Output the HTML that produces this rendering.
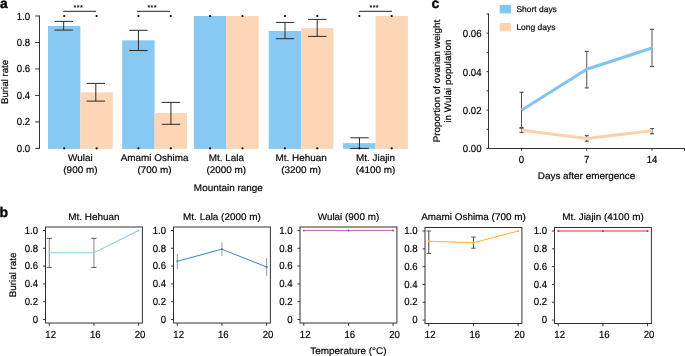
<!DOCTYPE html>
<html><head><meta charset="utf-8"><style>
html,body{margin:0;padding:0;background:#fff;}
text{stroke:#000;stroke-width:0.18px;}
text[font-weight=bold]{stroke-width:0.35px;}
svg{display:block;font-family:"Liberation Sans", sans-serif;-webkit-font-smoothing:antialiased;will-change:transform;text-rendering:geometricPrecision;}
</style></head><body>
<svg width="685" height="356" viewBox="0 0 685 356">
<rect width="685" height="356" fill="#fff"/>
<text x="-0.1" y="7.5" font-size="13.8" text-anchor="start" font-weight="bold" fill="#000" >a</text>
<line x1="39.5" y1="15.5" x2="39.5" y2="148.9" stroke="#333" stroke-width="1" />
<line x1="35.2" y1="148.4" x2="39.5" y2="148.4" stroke="#333" stroke-width="1" />
<text transform="translate(30.20,151.90) scale(1.0,1.08)" font-size="9.6" text-anchor="end" font-weight="normal" fill="#000" >0.0</text>
<line x1="35.2" y1="121.92" x2="39.5" y2="121.92" stroke="#333" stroke-width="1" />
<text transform="translate(30.20,125.42) scale(1.0,1.08)" font-size="9.6" text-anchor="end" font-weight="normal" fill="#000" >0.2</text>
<line x1="35.2" y1="95.44" x2="39.5" y2="95.44" stroke="#333" stroke-width="1" />
<text transform="translate(30.20,98.94) scale(1.0,1.08)" font-size="9.6" text-anchor="end" font-weight="normal" fill="#000" >0.4</text>
<line x1="35.2" y1="68.96" x2="39.5" y2="68.96" stroke="#333" stroke-width="1" />
<text transform="translate(30.20,72.46) scale(1.0,1.08)" font-size="9.6" text-anchor="end" font-weight="normal" fill="#000" >0.6</text>
<line x1="35.2" y1="42.47999999999999" x2="39.5" y2="42.47999999999999" stroke="#333" stroke-width="1" />
<text transform="translate(30.20,45.98) scale(1.0,1.08)" font-size="9.6" text-anchor="end" font-weight="normal" fill="#000" >0.8</text>
<line x1="35.2" y1="16.0" x2="39.5" y2="16.0" stroke="#333" stroke-width="1" />
<text transform="translate(30.20,19.50) scale(1.0,1.08)" font-size="9.6" text-anchor="end" font-weight="normal" fill="#000" >1.0</text>
<text transform="translate(7.6,81.9) rotate(-90) scale(1.01,1)" font-size="9.6" text-anchor="middle" fill="#000">Burial rate</text>
<rect x="48.00" y="26.00" width="32.40" height="122.90" fill="#88c9f4"/>
<rect x="80.40" y="92.40" width="32.40" height="56.50" fill="#fdd6b6"/>
<rect x="122.20" y="40.30" width="32.40" height="108.60" fill="#88c9f4"/>
<rect x="154.60" y="113.00" width="32.40" height="35.90" fill="#fdd6b6"/>
<rect x="193.90" y="16.00" width="32.40" height="132.90" fill="#88c9f4"/>
<rect x="226.30" y="16.00" width="32.40" height="132.90" fill="#fdd6b6"/>
<rect x="268.70" y="31.00" width="32.40" height="117.90" fill="#88c9f4"/>
<rect x="301.10" y="28.10" width="32.40" height="120.80" fill="#fdd6b6"/>
<rect x="343.10" y="143.10" width="32.40" height="5.80" fill="#88c9f4"/>
<rect x="375.50" y="16.00" width="32.40" height="132.90" fill="#fdd6b6"/>
<line x1="63.7" y1="21.4" x2="63.7" y2="30.1" stroke="#2a2a2a" stroke-width="1" />
<line x1="54.5" y1="21.4" x2="72.9" y2="21.4" stroke="#2a2a2a" stroke-width="1" />
<line x1="54.5" y1="30.1" x2="72.9" y2="30.1" stroke="#2a2a2a" stroke-width="1" />
<line x1="95.8" y1="83.4" x2="95.8" y2="101.1" stroke="#2a2a2a" stroke-width="1" />
<line x1="86.6" y1="83.4" x2="105.0" y2="83.4" stroke="#2a2a2a" stroke-width="1" />
<line x1="86.6" y1="101.1" x2="105.0" y2="101.1" stroke="#2a2a2a" stroke-width="1" />
<circle cx="64.20" cy="16" r="1.1" fill="#000"/>
<circle cx="64.20" cy="148.3" r="1.1" fill="#000"/>
<circle cx="96.60" cy="16" r="1.1" fill="#000"/>
<circle cx="96.60" cy="148.3" r="1.1" fill="#000"/>
<line x1="138.45" y1="30.3" x2="138.45" y2="50.5" stroke="#2a2a2a" stroke-width="1" />
<line x1="129.25" y1="30.3" x2="147.64999999999998" y2="30.3" stroke="#2a2a2a" stroke-width="1" />
<line x1="129.25" y1="50.5" x2="147.64999999999998" y2="50.5" stroke="#2a2a2a" stroke-width="1" />
<line x1="170.95" y1="102.4" x2="170.95" y2="124.3" stroke="#2a2a2a" stroke-width="1" />
<line x1="161.75" y1="102.4" x2="180.14999999999998" y2="102.4" stroke="#2a2a2a" stroke-width="1" />
<line x1="161.75" y1="124.3" x2="180.14999999999998" y2="124.3" stroke="#2a2a2a" stroke-width="1" />
<circle cx="138.40" cy="16" r="1.1" fill="#000"/>
<circle cx="138.40" cy="148.3" r="1.1" fill="#000"/>
<circle cx="170.80" cy="16" r="1.1" fill="#000"/>
<circle cx="170.80" cy="148.3" r="1.1" fill="#000"/>
<circle cx="210.10" cy="16" r="1.1" fill="#000"/>
<circle cx="210.10" cy="148.3" r="1.1" fill="#000"/>
<circle cx="242.50" cy="16" r="1.1" fill="#000"/>
<circle cx="242.50" cy="148.3" r="1.1" fill="#000"/>
<line x1="285.0" y1="22.45" x2="285.0" y2="38.7" stroke="#2a2a2a" stroke-width="1" />
<line x1="275.8" y1="22.45" x2="294.2" y2="22.45" stroke="#2a2a2a" stroke-width="1" />
<line x1="275.8" y1="38.7" x2="294.2" y2="38.7" stroke="#2a2a2a" stroke-width="1" />
<line x1="317.2" y1="19.4" x2="317.2" y2="36.4" stroke="#2a2a2a" stroke-width="1" />
<line x1="308.0" y1="19.4" x2="326.4" y2="19.4" stroke="#2a2a2a" stroke-width="1" />
<line x1="308.0" y1="36.4" x2="326.4" y2="36.4" stroke="#2a2a2a" stroke-width="1" />
<circle cx="284.90" cy="16" r="1.1" fill="#000"/>
<circle cx="284.90" cy="148.3" r="1.1" fill="#000"/>
<circle cx="317.30" cy="16" r="1.1" fill="#000"/>
<circle cx="317.30" cy="148.3" r="1.1" fill="#000"/>
<line x1="359.5" y1="137.8" x2="359.5" y2="148.4" stroke="#2a2a2a" stroke-width="1" />
<line x1="350.3" y1="137.8" x2="368.7" y2="137.8" stroke="#2a2a2a" stroke-width="1" />
<line x1="350.3" y1="148.4" x2="368.7" y2="148.4" stroke="#2a2a2a" stroke-width="1" />
<circle cx="359.30" cy="16" r="1.1" fill="#000"/>
<circle cx="359.30" cy="148.3" r="1.1" fill="#000"/>
<circle cx="391.70" cy="16" r="1.1" fill="#000"/>
<circle cx="391.70" cy="148.3" r="1.1" fill="#000"/>
<line x1="63.2" y1="11.3" x2="96.1" y2="11.3" stroke="#222" stroke-width="1" />
<text x="78.35000000000001" y="9.7" font-size="7.2" text-anchor="middle" font-weight="normal" fill="#000" style="stroke-width:0.12px;letter-spacing:0.35px">***</text>
<line x1="136.9" y1="11.3" x2="170.0" y2="11.3" stroke="#222" stroke-width="1" />
<text x="152.14999999999998" y="9.7" font-size="7.2" text-anchor="middle" font-weight="normal" fill="#000" style="stroke-width:0.12px;letter-spacing:0.35px">***</text>
<line x1="359.1" y1="11.3" x2="392.1" y2="11.3" stroke="#222" stroke-width="1" />
<text x="374.3" y="9.7" font-size="7.2" text-anchor="middle" font-weight="normal" fill="#000" style="stroke-width:0.12px;letter-spacing:0.35px">***</text>
<text transform="translate(80.40,160.80) scale(1.033,1.0)" font-size="9.6" text-anchor="middle" font-weight="normal" fill="#000" >Wulai</text>
<text transform="translate(80.40,172.60) scale(1.033,1.0)" font-size="9.6" text-anchor="middle" font-weight="normal" fill="#000" >(900 m)</text>
<text transform="translate(154.60,160.80) scale(1.033,1.0)" font-size="9.6" text-anchor="middle" font-weight="normal" fill="#000" >Amami Oshima</text>
<text transform="translate(154.60,172.60) scale(1.033,1.0)" font-size="9.6" text-anchor="middle" font-weight="normal" fill="#000" >(700 m)</text>
<text transform="translate(226.30,160.80) scale(1.033,1.0)" font-size="9.6" text-anchor="middle" font-weight="normal" fill="#000" >Mt. Lala</text>
<text transform="translate(226.30,172.60) scale(1.033,1.0)" font-size="9.6" text-anchor="middle" font-weight="normal" fill="#000" >(2000 m)</text>
<text transform="translate(301.10,160.80) scale(1.033,1.0)" font-size="9.6" text-anchor="middle" font-weight="normal" fill="#000" >Mt. Hehuan</text>
<text transform="translate(301.10,172.60) scale(1.033,1.0)" font-size="9.6" text-anchor="middle" font-weight="normal" fill="#000" >(3200 m)</text>
<text transform="translate(375.50,160.80) scale(1.033,1.0)" font-size="9.6" text-anchor="middle" font-weight="normal" fill="#000" >Mt. Jiajin</text>
<text transform="translate(375.50,172.60) scale(1.033,1.0)" font-size="9.6" text-anchor="middle" font-weight="normal" fill="#000" >(4100 m)</text>
<text transform="translate(228.30,190.70) scale(1.033,1.0)" font-size="9.6" text-anchor="middle" font-weight="normal" fill="#000" >Mountain range</text>
<text x="431.6" y="7.5" font-size="14" text-anchor="start" font-weight="bold" fill="#000" >c</text>
<line x1="488.5" y1="13.45999999999998" x2="488.5" y2="148.5" stroke="#333" stroke-width="1" />
<line x1="486.5" y1="148.5" x2="488.5" y2="148.5" stroke="#333" stroke-width="1" />
<line x1="486.5" y1="129.28" x2="488.5" y2="129.28" stroke="#333" stroke-width="1" />
<line x1="486.5" y1="110.06" x2="488.5" y2="110.06" stroke="#333" stroke-width="1" />
<line x1="486.5" y1="90.84" x2="488.5" y2="90.84" stroke="#333" stroke-width="1" />
<line x1="486.5" y1="71.62" x2="488.5" y2="71.62" stroke="#333" stroke-width="1" />
<line x1="486.5" y1="52.400000000000006" x2="488.5" y2="52.400000000000006" stroke="#333" stroke-width="1" />
<line x1="486.5" y1="33.18000000000001" x2="488.5" y2="33.18000000000001" stroke="#333" stroke-width="1" />
<line x1="486.5" y1="13.95999999999998" x2="488.5" y2="13.95999999999998" stroke="#333" stroke-width="1" />
<text transform="translate(481.50,152.40) scale(1.0,1.08)" font-size="9.6" text-anchor="end" font-weight="normal" fill="#000" >0.00</text>
<text transform="translate(481.50,113.96) scale(1.0,1.08)" font-size="9.6" text-anchor="end" font-weight="normal" fill="#000" >0.02</text>
<text transform="translate(481.50,75.52) scale(1.0,1.08)" font-size="9.6" text-anchor="end" font-weight="normal" fill="#000" >0.04</text>
<text transform="translate(481.50,37.08) scale(1.0,1.08)" font-size="9.6" text-anchor="end" font-weight="normal" fill="#000" >0.06</text>
<line x1="488.0" y1="148.5" x2="684.5" y2="148.5" stroke="#333" stroke-width="1" />
<line x1="521.5" y1="148.5" x2="521.5" y2="150.7" stroke="#333" stroke-width="1" />
<text transform="translate(521.50,163.20) scale(1.0,1.08)" font-size="9.6" text-anchor="middle" font-weight="normal" fill="#000" >0</text>
<line x1="586.75" y1="148.5" x2="586.75" y2="150.7" stroke="#333" stroke-width="1" />
<text transform="translate(586.75,163.20) scale(1.0,1.08)" font-size="9.6" text-anchor="middle" font-weight="normal" fill="#000" >7</text>
<line x1="652.0" y1="148.5" x2="652.0" y2="150.7" stroke="#333" stroke-width="1" />
<text transform="translate(652.00,163.20) scale(1.0,1.08)" font-size="9.6" text-anchor="middle" font-weight="normal" fill="#000" >14</text>
<line x1="684.5" y1="148.5" x2="684.5" y2="150.7" stroke="#333" stroke-width="1" />
<text transform="translate(586.50,178.90) scale(1.033,1.0)" font-size="9.6" text-anchor="middle" font-weight="normal" fill="#000" >Days after emergence</text>
<text transform="translate(439.9,81) rotate(-90) scale(1.025,1)" font-size="9.6" text-anchor="middle" fill="#000">Proportion of ovarian weight</text>
<text transform="translate(451.3,81.1) rotate(-90) scale(1.025,1)" font-size="9.6" text-anchor="middle" fill="#000">in Wulai population</text>
<rect x="499.70" y="4.90" width="11.40" height="8.50" fill="#84c6f3"/>
<rect x="499.70" y="23.00" width="11.40" height="8.30" fill="#fdd3b2"/>
<text transform="translate(516.40,12.30) scale(1.01,1.0)" font-size="8.4" text-anchor="start" font-weight="normal" fill="#000" >Short days</text>
<text transform="translate(516.40,30.10) scale(1.01,1.0)" font-size="8.4" text-anchor="start" font-weight="normal" fill="#000" >Long days</text>
<line x1="521.5" y1="92.3" x2="521.5" y2="127.5" stroke="#555" stroke-width="1" />
<line x1="519.5" y1="92.3" x2="523.5" y2="92.3" stroke="#555" stroke-width="1.2" />
<line x1="519.5" y1="127.5" x2="523.5" y2="127.5" stroke="#555" stroke-width="1.2" />
<line x1="586.75" y1="51.4" x2="586.75" y2="87.9" stroke="#555" stroke-width="1" />
<line x1="584.75" y1="51.4" x2="588.75" y2="51.4" stroke="#555" stroke-width="1.2" />
<line x1="584.75" y1="87.9" x2="588.75" y2="87.9" stroke="#555" stroke-width="1.2" />
<line x1="652.0" y1="29.3" x2="652.0" y2="66.5" stroke="#555" stroke-width="1" />
<line x1="650.0" y1="29.3" x2="654.0" y2="29.3" stroke="#555" stroke-width="1.2" />
<line x1="650.0" y1="66.5" x2="654.0" y2="66.5" stroke="#555" stroke-width="1.2" />
<line x1="521.5" y1="128.3" x2="521.5" y2="132.5" stroke="#555" stroke-width="1" />
<line x1="519.5" y1="128.3" x2="523.5" y2="128.3" stroke="#555" stroke-width="1.2" />
<line x1="519.5" y1="132.5" x2="523.5" y2="132.5" stroke="#555" stroke-width="1.2" />
<line x1="586.75" y1="135.7" x2="586.75" y2="141.2" stroke="#555" stroke-width="1" />
<line x1="584.75" y1="135.7" x2="588.75" y2="135.7" stroke="#555" stroke-width="1.2" />
<line x1="584.75" y1="141.2" x2="588.75" y2="141.2" stroke="#555" stroke-width="1.2" />
<line x1="652.0" y1="128.6" x2="652.0" y2="133.8" stroke="#555" stroke-width="1" />
<line x1="650.0" y1="128.6" x2="654.0" y2="128.6" stroke="#555" stroke-width="1.2" />
<line x1="650.0" y1="133.8" x2="654.0" y2="133.8" stroke="#555" stroke-width="1.2" />
<polyline points="521.50,130.3 586.75,138.6 652.00,130.8" fill="none" stroke="#fdd0ac" stroke-width="3" stroke-linejoin="round"/>
<polyline points="521.50,110.2 586.75,69.2 652.00,48.0" fill="none" stroke="#80c4f2" stroke-width="3" stroke-linejoin="round"/>
<text x="-0.4" y="216.6" font-size="14" text-anchor="start" font-weight="bold" fill="#000" >b</text>
<text transform="translate(16.0,274.9) rotate(-90) scale(1.025,1)" font-size="9.6" text-anchor="middle" fill="#000">Burial rate</text>
<text transform="translate(348.40,353.50) scale(1.033,1.0)" font-size="9.6" text-anchor="middle" font-weight="normal" fill="#000" >Temperature (°C)</text>
<rect x="45.5" y="227.0" width="96.9" height="96.0" fill="none" stroke="#333" stroke-width="1"/>
<line x1="43.1" y1="319.5" x2="45.5" y2="319.5" stroke="#333" stroke-width="1" />
<text transform="translate(38.10,322.70) scale(1.0,1.08)" font-size="9.6" text-anchor="end" font-weight="normal" fill="#000" >0</text>
<line x1="43.1" y1="301.7" x2="45.5" y2="301.7" stroke="#333" stroke-width="1" />
<text transform="translate(38.10,304.90) scale(1.0,1.08)" font-size="9.6" text-anchor="end" font-weight="normal" fill="#000" >0.2</text>
<line x1="43.1" y1="283.9" x2="45.5" y2="283.9" stroke="#333" stroke-width="1" />
<text transform="translate(38.10,287.10) scale(1.0,1.08)" font-size="9.6" text-anchor="end" font-weight="normal" fill="#000" >0.4</text>
<line x1="43.1" y1="266.1" x2="45.5" y2="266.1" stroke="#333" stroke-width="1" />
<text transform="translate(38.10,269.30) scale(1.0,1.08)" font-size="9.6" text-anchor="end" font-weight="normal" fill="#000" >0.6</text>
<line x1="43.1" y1="248.3" x2="45.5" y2="248.3" stroke="#333" stroke-width="1" />
<text transform="translate(38.10,251.50) scale(1.0,1.08)" font-size="9.6" text-anchor="end" font-weight="normal" fill="#000" >0.8</text>
<line x1="43.1" y1="230.5" x2="45.5" y2="230.5" stroke="#333" stroke-width="1" />
<text transform="translate(38.10,233.70) scale(1.0,1.08)" font-size="9.6" text-anchor="end" font-weight="normal" fill="#000" >1.0</text>
<line x1="49.3" y1="323.0" x2="49.3" y2="325.8" stroke="#333" stroke-width="1" />
<text transform="translate(50.70,337.60) scale(1.0,1.08)" font-size="9.6" text-anchor="middle" font-weight="normal" fill="#000" >12</text>
<line x1="93.95" y1="323.0" x2="93.95" y2="325.8" stroke="#333" stroke-width="1" />
<text transform="translate(95.35,337.60) scale(1.0,1.08)" font-size="9.6" text-anchor="middle" font-weight="normal" fill="#000" >16</text>
<line x1="138.60000000000002" y1="323.0" x2="138.60000000000002" y2="325.8" stroke="#333" stroke-width="1" />
<text transform="translate(140.00,337.60) scale(1.0,1.08)" font-size="9.6" text-anchor="middle" font-weight="normal" fill="#000" >20</text>
<text transform="translate(93.95,219.80) scale(1.033,1.0)" font-size="9.6" text-anchor="middle" font-weight="normal" fill="#000" >Mt. Hehuan</text>
<line x1="49.3" y1="267.435" x2="49.3" y2="238.332" stroke="#888" stroke-width="1" />
<line x1="46.8" y1="267.435" x2="51.8" y2="267.435" stroke="#555" stroke-width="1" />
<line x1="46.8" y1="238.332" x2="51.8" y2="238.332" stroke="#555" stroke-width="1" />
<line x1="93.95" y1="267.435" x2="93.95" y2="238.332" stroke="#888" stroke-width="1" />
<line x1="91.45" y1="267.435" x2="96.45" y2="267.435" stroke="#555" stroke-width="1" />
<line x1="91.45" y1="238.332" x2="96.45" y2="238.332" stroke="#555" stroke-width="1" />
<polyline points="49.30,252.75 93.95,252.75 138.60,230.50" fill="none" stroke="#8ecbf0" stroke-width="1.1"/>
<circle cx="49.30" cy="252.75" r="1" fill="#8ecbf0"/>
<circle cx="93.95" cy="252.75" r="1" fill="#8ecbf0"/>
<circle cx="138.60" cy="230.50" r="1" fill="#8ecbf0"/>
<rect x="173.5" y="227.0" width="96.9" height="96.0" fill="none" stroke="#333" stroke-width="1"/>
<line x1="171.1" y1="319.5" x2="173.5" y2="319.5" stroke="#333" stroke-width="1" />
<text transform="translate(166.10,322.70) scale(1.0,1.08)" font-size="9.6" text-anchor="end" font-weight="normal" fill="#000" >0</text>
<line x1="171.1" y1="301.7" x2="173.5" y2="301.7" stroke="#333" stroke-width="1" />
<text transform="translate(166.10,304.90) scale(1.0,1.08)" font-size="9.6" text-anchor="end" font-weight="normal" fill="#000" >0.2</text>
<line x1="171.1" y1="283.9" x2="173.5" y2="283.9" stroke="#333" stroke-width="1" />
<text transform="translate(166.10,287.10) scale(1.0,1.08)" font-size="9.6" text-anchor="end" font-weight="normal" fill="#000" >0.4</text>
<line x1="171.1" y1="266.1" x2="173.5" y2="266.1" stroke="#333" stroke-width="1" />
<text transform="translate(166.10,269.30) scale(1.0,1.08)" font-size="9.6" text-anchor="end" font-weight="normal" fill="#000" >0.6</text>
<line x1="171.1" y1="248.3" x2="173.5" y2="248.3" stroke="#333" stroke-width="1" />
<text transform="translate(166.10,251.50) scale(1.0,1.08)" font-size="9.6" text-anchor="end" font-weight="normal" fill="#000" >0.8</text>
<line x1="171.1" y1="230.5" x2="173.5" y2="230.5" stroke="#333" stroke-width="1" />
<text transform="translate(166.10,233.70) scale(1.0,1.08)" font-size="9.6" text-anchor="end" font-weight="normal" fill="#000" >1.0</text>
<line x1="177.3" y1="323.0" x2="177.3" y2="325.8" stroke="#333" stroke-width="1" />
<text transform="translate(178.70,337.60) scale(1.0,1.08)" font-size="9.6" text-anchor="middle" font-weight="normal" fill="#000" >12</text>
<line x1="221.95000000000002" y1="323.0" x2="221.95000000000002" y2="325.8" stroke="#333" stroke-width="1" />
<text transform="translate(223.35,337.60) scale(1.0,1.08)" font-size="9.6" text-anchor="middle" font-weight="normal" fill="#000" >16</text>
<line x1="266.6" y1="323.0" x2="266.6" y2="325.8" stroke="#333" stroke-width="1" />
<text transform="translate(268.00,337.60) scale(1.0,1.08)" font-size="9.6" text-anchor="middle" font-weight="normal" fill="#000" >20</text>
<text transform="translate(221.95,219.80) scale(1.033,1.0)" font-size="9.6" text-anchor="middle" font-weight="normal" fill="#000" >Mt. Lala (2000 m)</text>
<line x1="177.3" y1="269.21500000000003" x2="177.3" y2="253.81799999999998" stroke="#999" stroke-width="1" />
<line x1="221.95000000000002" y1="255.954" x2="221.95000000000002" y2="242.07" stroke="#999" stroke-width="1" />
<line x1="266.6" y1="275.89" x2="266.6" y2="258.09000000000003" stroke="#999" stroke-width="1" />
<polyline points="177.30,261.29 221.95,249.19 266.60,266.99" fill="none" stroke="#3d7fc8" stroke-width="1.0"/>
<circle cx="177.30" cy="261.29" r="1" fill="#3d7fc8"/>
<circle cx="221.95" cy="249.19" r="1" fill="#3d7fc8"/>
<circle cx="266.60" cy="266.99" r="1" fill="#3d7fc8"/>
<rect x="300.0" y="227.0" width="96.9" height="96.0" fill="none" stroke="#333" stroke-width="1"/>
<line x1="297.6" y1="319.5" x2="300.0" y2="319.5" stroke="#333" stroke-width="1" />
<text transform="translate(292.60,322.70) scale(1.0,1.08)" font-size="9.6" text-anchor="end" font-weight="normal" fill="#000" >0</text>
<line x1="297.6" y1="301.7" x2="300.0" y2="301.7" stroke="#333" stroke-width="1" />
<text transform="translate(292.60,304.90) scale(1.0,1.08)" font-size="9.6" text-anchor="end" font-weight="normal" fill="#000" >0.2</text>
<line x1="297.6" y1="283.9" x2="300.0" y2="283.9" stroke="#333" stroke-width="1" />
<text transform="translate(292.60,287.10) scale(1.0,1.08)" font-size="9.6" text-anchor="end" font-weight="normal" fill="#000" >0.4</text>
<line x1="297.6" y1="266.1" x2="300.0" y2="266.1" stroke="#333" stroke-width="1" />
<text transform="translate(292.60,269.30) scale(1.0,1.08)" font-size="9.6" text-anchor="end" font-weight="normal" fill="#000" >0.6</text>
<line x1="297.6" y1="248.3" x2="300.0" y2="248.3" stroke="#333" stroke-width="1" />
<text transform="translate(292.60,251.50) scale(1.0,1.08)" font-size="9.6" text-anchor="end" font-weight="normal" fill="#000" >0.8</text>
<line x1="297.6" y1="230.5" x2="300.0" y2="230.5" stroke="#333" stroke-width="1" />
<text transform="translate(292.60,233.70) scale(1.0,1.08)" font-size="9.6" text-anchor="end" font-weight="normal" fill="#000" >1.0</text>
<line x1="303.8" y1="323.0" x2="303.8" y2="325.8" stroke="#333" stroke-width="1" />
<text transform="translate(305.20,337.60) scale(1.0,1.08)" font-size="9.6" text-anchor="middle" font-weight="normal" fill="#000" >12</text>
<line x1="348.45000000000005" y1="323.0" x2="348.45000000000005" y2="325.8" stroke="#333" stroke-width="1" />
<text transform="translate(349.85,337.60) scale(1.0,1.08)" font-size="9.6" text-anchor="middle" font-weight="normal" fill="#000" >16</text>
<line x1="393.1" y1="323.0" x2="393.1" y2="325.8" stroke="#333" stroke-width="1" />
<text transform="translate(394.50,337.60) scale(1.0,1.08)" font-size="9.6" text-anchor="middle" font-weight="normal" fill="#000" >20</text>
<text transform="translate(348.45,219.80) scale(1.033,1.0)" font-size="9.6" text-anchor="middle" font-weight="normal" fill="#000" >Wulai (900 m)</text>
<polyline points="303.80,230.50 348.45,230.50 393.10,230.50" fill="none" stroke="#c070b8" stroke-width="1.1"/>
<circle cx="303.80" cy="230.50" r="1" fill="#a040a0"/>
<circle cx="348.45" cy="230.50" r="1" fill="#a040a0"/>
<circle cx="393.10" cy="230.50" r="1" fill="#a040a0"/>
<rect x="425.0" y="227.5" width="96.9" height="96.0" fill="none" stroke="#333" stroke-width="1"/>
<line x1="422.6" y1="320.1" x2="425.0" y2="320.1" stroke="#333" stroke-width="1" />
<text transform="translate(417.60,323.30) scale(1.0,1.08)" font-size="9.6" text-anchor="end" font-weight="normal" fill="#000" >0</text>
<line x1="422.6" y1="302.28000000000003" x2="425.0" y2="302.28000000000003" stroke="#333" stroke-width="1" />
<text transform="translate(417.60,305.48) scale(1.0,1.08)" font-size="9.6" text-anchor="end" font-weight="normal" fill="#000" >0.2</text>
<line x1="422.6" y1="284.46000000000004" x2="425.0" y2="284.46000000000004" stroke="#333" stroke-width="1" />
<text transform="translate(417.60,287.66) scale(1.0,1.08)" font-size="9.6" text-anchor="end" font-weight="normal" fill="#000" >0.4</text>
<line x1="422.6" y1="266.64" x2="425.0" y2="266.64" stroke="#333" stroke-width="1" />
<text transform="translate(417.60,269.84) scale(1.0,1.08)" font-size="9.6" text-anchor="end" font-weight="normal" fill="#000" >0.6</text>
<line x1="422.6" y1="248.82" x2="425.0" y2="248.82" stroke="#333" stroke-width="1" />
<text transform="translate(417.60,252.02) scale(1.0,1.08)" font-size="9.6" text-anchor="end" font-weight="normal" fill="#000" >0.8</text>
<line x1="422.6" y1="231.0" x2="425.0" y2="231.0" stroke="#333" stroke-width="1" />
<text transform="translate(417.60,234.20) scale(1.0,1.08)" font-size="9.6" text-anchor="end" font-weight="normal" fill="#000" >1.0</text>
<line x1="428.8" y1="323.5" x2="428.8" y2="326.3" stroke="#333" stroke-width="1" />
<text transform="translate(430.20,337.60) scale(1.0,1.08)" font-size="9.6" text-anchor="middle" font-weight="normal" fill="#000" >12</text>
<line x1="473.45000000000005" y1="323.5" x2="473.45000000000005" y2="326.3" stroke="#333" stroke-width="1" />
<text transform="translate(474.85,337.60) scale(1.0,1.08)" font-size="9.6" text-anchor="middle" font-weight="normal" fill="#000" >16</text>
<line x1="518.1" y1="323.5" x2="518.1" y2="326.3" stroke="#333" stroke-width="1" />
<text transform="translate(519.50,337.60) scale(1.0,1.08)" font-size="9.6" text-anchor="middle" font-weight="normal" fill="#000" >20</text>
<text transform="translate(473.45,219.80) scale(1.033,1.0)" font-size="9.6" text-anchor="middle" font-weight="normal" fill="#000" >Amami Oshima (700 m)</text>
<line x1="428.8" y1="253.4532" x2="428.8" y2="231.0" stroke="#444" stroke-width="1" />
<line x1="426.5" y1="253.4532" x2="431.1" y2="253.4532" stroke="#555" stroke-width="1" />
<line x1="426.5" y1="231.0" x2="431.1" y2="231.0" stroke="#555" stroke-width="1" />
<line x1="473.45000000000005" y1="248.1963" x2="473.45000000000005" y2="237.0588" stroke="#444" stroke-width="1" />
<line x1="471.15000000000003" y1="248.1963" x2="475.75000000000006" y2="248.1963" stroke="#555" stroke-width="1" />
<line x1="471.15000000000003" y1="237.0588" x2="475.75000000000006" y2="237.0588" stroke="#555" stroke-width="1" />
<polyline points="428.80,241.25 473.45,242.76 518.10,231.00" fill="none" stroke="#ffb22c" stroke-width="1.0"/>
<circle cx="428.80" cy="241.25" r="1" fill="#ffb22c"/>
<circle cx="473.45" cy="242.76" r="1" fill="#ffb22c"/>
<circle cx="518.10" cy="231.00" r="1" fill="#ffb22c"/>
<rect x="554.5" y="227.5" width="96.9" height="96.0" fill="none" stroke="#333" stroke-width="1"/>
<line x1="552.1" y1="320.1" x2="554.5" y2="320.1" stroke="#333" stroke-width="1" />
<text transform="translate(547.10,323.30) scale(1.0,1.08)" font-size="9.6" text-anchor="end" font-weight="normal" fill="#000" >0</text>
<line x1="552.1" y1="302.28000000000003" x2="554.5" y2="302.28000000000003" stroke="#333" stroke-width="1" />
<text transform="translate(547.10,305.48) scale(1.0,1.08)" font-size="9.6" text-anchor="end" font-weight="normal" fill="#000" >0.2</text>
<line x1="552.1" y1="284.46000000000004" x2="554.5" y2="284.46000000000004" stroke="#333" stroke-width="1" />
<text transform="translate(547.10,287.66) scale(1.0,1.08)" font-size="9.6" text-anchor="end" font-weight="normal" fill="#000" >0.4</text>
<line x1="552.1" y1="266.64" x2="554.5" y2="266.64" stroke="#333" stroke-width="1" />
<text transform="translate(547.10,269.84) scale(1.0,1.08)" font-size="9.6" text-anchor="end" font-weight="normal" fill="#000" >0.6</text>
<line x1="552.1" y1="248.82" x2="554.5" y2="248.82" stroke="#333" stroke-width="1" />
<text transform="translate(547.10,252.02) scale(1.0,1.08)" font-size="9.6" text-anchor="end" font-weight="normal" fill="#000" >0.8</text>
<line x1="552.1" y1="231.0" x2="554.5" y2="231.0" stroke="#333" stroke-width="1" />
<text transform="translate(547.10,234.20) scale(1.0,1.08)" font-size="9.6" text-anchor="end" font-weight="normal" fill="#000" >1.0</text>
<line x1="558.3" y1="323.5" x2="558.3" y2="326.3" stroke="#333" stroke-width="1" />
<text transform="translate(559.70,337.60) scale(1.0,1.08)" font-size="9.6" text-anchor="middle" font-weight="normal" fill="#000" >12</text>
<line x1="602.9499999999999" y1="323.5" x2="602.9499999999999" y2="326.3" stroke="#333" stroke-width="1" />
<text transform="translate(604.35,337.60) scale(1.0,1.08)" font-size="9.6" text-anchor="middle" font-weight="normal" fill="#000" >16</text>
<line x1="647.5999999999999" y1="323.5" x2="647.5999999999999" y2="326.3" stroke="#333" stroke-width="1" />
<text transform="translate(649.00,337.60) scale(1.0,1.08)" font-size="9.6" text-anchor="middle" font-weight="normal" fill="#000" >20</text>
<text transform="translate(602.95,219.80) scale(1.033,1.0)" font-size="9.6" text-anchor="middle" font-weight="normal" fill="#000" >Mt. Jiajin (4100 m)</text>
<polyline points="558.30,231.00 602.95,231.00 647.60,231.00" fill="none" stroke="#ff6e6e" stroke-width="1.6"/>
<circle cx="558.30" cy="231.00" r="1" fill="#e81c24"/>
<circle cx="602.95" cy="231.00" r="1" fill="#e81c24"/>
<circle cx="647.60" cy="231.00" r="1" fill="#e81c24"/>
</svg>
</body></html>
